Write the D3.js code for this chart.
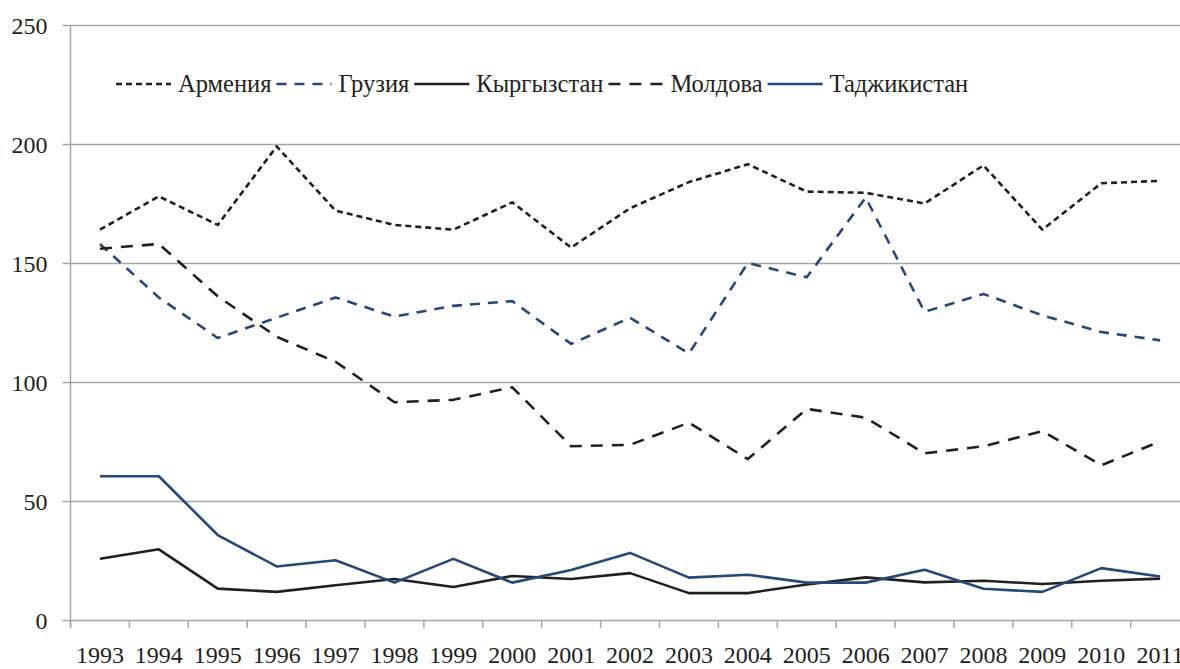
<!DOCTYPE html>
<html>
<head>
<meta charset="utf-8">
<script src="https://cdn.jsdelivr.net/npm/d3@7"></script>
<style>
  body { margin: 0; background: #fff; }
  svg text { font-family: "Liberation Serif", "Times New Roman", serif; fill: #231f20; }
</style>
</head>
<body>
<div id="chart"></div>
<script>
// data
var years = [1993, 1994, 1995, 1996, 1997, 1998, 1999, 2000, 2001, 2002,
             2003, 2004, 2005, 2006, 2007, 2008, 2009, 2010, 2011];
var armenia    = [164, 178, 166, 199, 172, 166, 164, 175.5, 156.5, 173, 184, 191.5, 180, 179.5, 175, 191, 164, 183.5, 184.5];
var georgia    = [158, 135.5, 118.5, 127, 135.5, 127.5, 132, 134, 116, 127, 112, 150, 144, 177.5, 129.5, 137, 128, 121, 117.5];
var kyrgyzstan = [25.7, 29.7, 13.2, 11.8, 14.6, 17.2, 13.9, 18.5, 17.2, 19.7, 11.3, 11.3, 14.9, 17.9, 15.8, 16.5, 15.1, 16.5, 17.4];
var moldova    = [156, 158, 136, 119, 108.5, 91.5, 92.5, 97.8, 73, 73.6, 82.9, 67.6, 88.7, 85, 70, 73, 79.4, 65, 75];
var tajikistan = [60.4, 60.4, 35.7, 22.5, 25.1, 15.7, 25.7, 15.7, 21, 28.2, 17.8, 19, 15.7, 15.7, 21.1, 13.1, 11.8, 21.8, 18.3];
var yTicks = [0, 50, 100, 150, 200, 250];

var series = [
  {name: "Армения",     values: armenia,    color: "#231f20", dash: "6,4"},
  {name: "Грузия",      values: georgia,    color: "#25497a", dash: "10,8"},
  {name: "Кыргызстан",  values: kyrgyzstan, color: "#231f20", dash: null},
  {name: "Молдова",     values: moldova,    color: "#231f20", dash: "12,9"},
  {name: "Таджикистан", values: tajikistan, color: "#25497a", dash: null}
];

var width = 1180, height = 669;
var plotLeft = 70.5, step = 58.9, plotTop = 25, plotBottom = 620;

var svg = d3.select("#chart").append("svg")
  .attr("width", width)
  .attr("height", height);

var x = d3.scaleBand()
  .domain(years)
  .range([plotLeft, plotLeft + step * years.length])
  .padding(0);

var y = d3.scaleLinear()
  .domain([0, 250])
  .range([plotBottom, plotTop]);

// gridlines + y labels
var yAxis = d3.axisLeft(y)
  .tickValues(yTicks)
  .tickSize(0);
var gy = svg.append("g")
  .attr("transform", "translate(" + plotLeft + ",0)")
  .call(yAxis);
gy.select(".domain").remove();
gy.attr("font-family", null).attr("font-size", null);
gy.selectAll(".tick line")
  .attr("x1", -8)
  .attr("x2", width - plotLeft)
  .attr("stroke", "#a6a6a6")
  .attr("stroke-width", 1.5);
gy.selectAll(".tick text")
  .attr("x", -23)
  .attr("dy", "0.36em")
  .style("font-size", "24px");

// y axis line
svg.append("line")
  .attr("x1", plotLeft).attr("x2", plotLeft)
  .attr("y1", plotTop).attr("y2", plotBottom + 8)
  .attr("stroke", "#a6a6a6")
  .attr("stroke-width", 1.5);

// x ticks at category boundaries
var bounds = years.map(function(d) { return x(d); }).concat([x(years[years.length - 1]) + x.bandwidth()]);
svg.append("g").selectAll("line").data(bounds)
  .enter().append("line")
  .attr("x1", function(d) { return d; })
  .attr("x2", function(d) { return d; })
  .attr("y1", plotBottom)
  .attr("y2", plotBottom + 8)
  .attr("stroke", "#a6a6a6")
  .attr("stroke-width", 1.5);

// x labels
var xAxis = d3.axisBottom(x).tickSize(0).tickPadding(0);
var gx = svg.append("g")
  .attr("transform", "translate(0," + plotBottom + ")")
  .call(xAxis);
gx.select(".domain").remove();
gx.attr("font-family", null).attr("font-size", null);
gx.selectAll(".tick text")
  .attr("y", 43)
  .attr("dy", 0)
  .style("font-size", "24px");

// lines
var line = d3.line()
  .x(function(d, i) { return x(years[i]) + x.bandwidth() / 2; })
  .y(function(d) { return y(d); });

series.forEach(function(s) {
  svg.append("path")
    .attr("d", line(s.values))
    .attr("fill", "none")
    .attr("stroke", s.color)
    .attr("stroke-width", 2.6)
    .attr("stroke-linejoin", "round")
    .attr("stroke-dasharray", s.dash);
});

// legend
var lx = 116, ly = 84;
series.forEach(function(s) {
  svg.append("line")
    .attr("x1", lx).attr("x2", lx + 55)
    .attr("y1", ly).attr("y2", ly)
    .attr("stroke", s.color)
    .attr("stroke-width", 2.6)
    .attr("stroke-dasharray", s.dash);
  var t = svg.append("text")
    .attr("x", lx + 62)
    .attr("y", ly + 8)
    .style("font-size", "24.5px")
    .text(s.name);
  lx = lx + 62 + t.node().getComputedTextLength() + 5;
});
</script>
</body>
</html>
